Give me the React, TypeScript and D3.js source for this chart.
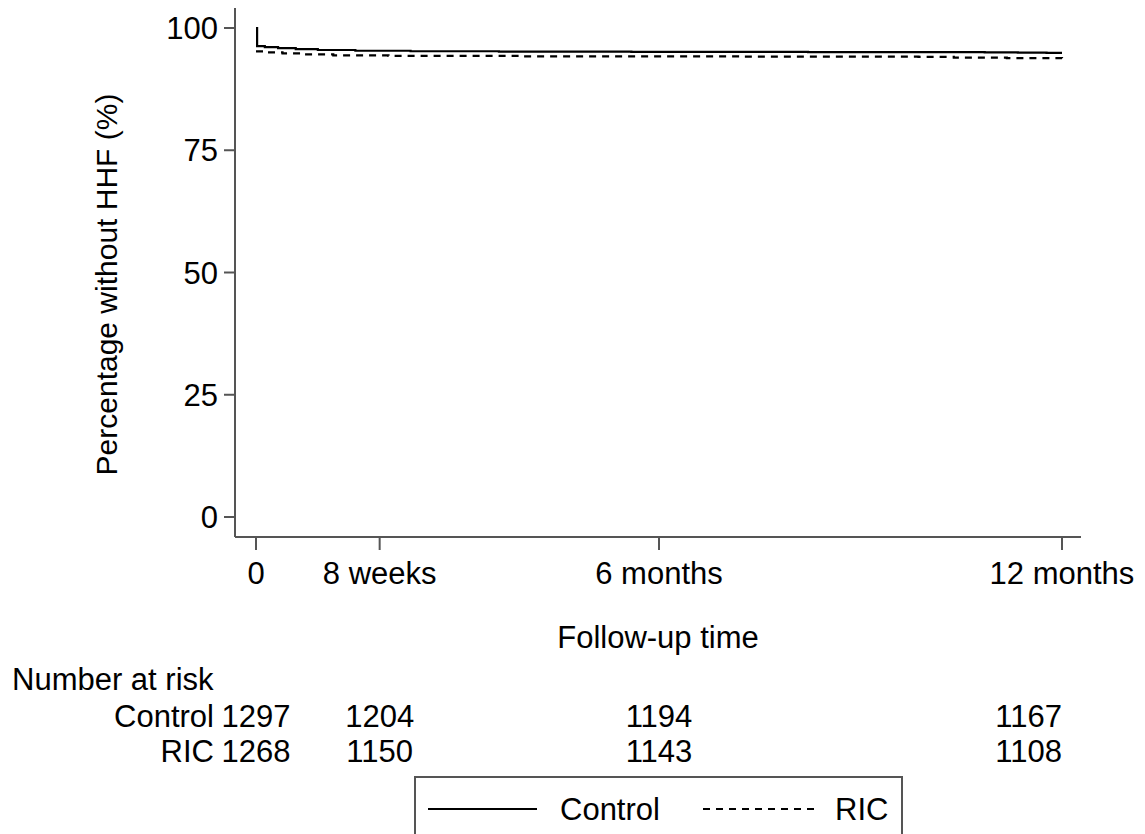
import React from "react";
import * as d3 from "d3";

const yTicks = [0, 25, 50, 75, 100];
const xTickDays = [0, 56, 182.5, 365];
const xTickLabels = ["0", "8 weeks", "6 months", "12 months"];

// Kaplan-Meier steps: [day, percent]
const controlCurve: [number, number][] = [
  [0, 100], [0.5, 96.3], [4, 96.1], [10, 95.9], [18, 95.7], [28, 95.5], [45, 95.35],
  [70, 95.25], [110, 95.15], [170, 95.1], [250, 95.05], [330, 95.0], [345, 94.95], [358, 94.9], [365, 94.9],
];
const ricCurve: [number, number][] = [
  [0, 95.2], [5, 95.0], [12, 94.8], [22, 94.6], [35, 94.4], [60, 94.3], [120, 94.2],
  [220, 94.15], [300, 94.1], [316, 93.95], [340, 93.85], [365, 93.8],
];

const atRiskTimes = [0, 56, 182.5, 365];
const atRiskControl = [1297, 1204, 1194, 1167];
const atRiskRIC = [1268, 1150, 1143, 1108];
const seriesNames = ["Control", "RIC"];

const W = 1145, H = 834;
const FONT = "'Liberation Sans', Arial, Helvetica, sans-serif";
const AXIS = "#555";
const FS = 31;

export default function App() {
  const x = d3.scaleLinear().domain([0, 365]).range([256, 1062]);
  const y = d3.scaleLinear().domain([0, 100]).range([517, 28]);
  const line = d3
    .line<[number, number]>()
    .x((d) => x(d[0]))
    .y((d) => y(d[1]))
    .curve(d3.curveStepAfter);

  const plotLeft = 235, plotBottom = 537, plotRight = 1081, plotTop = 8;
  const riskX = (i: number) => {
    if (i === atRiskTimes.length - 1) return { xx: x(atRiskTimes[i]), anchor: "end" as const };
    return { xx: x(atRiskTimes[i]), anchor: "middle" as const };
  };

  return (
    <svg width={W} height={H} style={{ position: "absolute", left: 0, top: 0, background: "#fff" }} fontFamily={FONT}>
      <rect width={W} height={H} fill="#fff" />
      {/* y axis */}
      <line x1={plotLeft} x2={plotLeft} y1={plotTop} y2={plotBottom} stroke={AXIS} strokeWidth={2} />
      {yTicks.map((t) => (
        <g key={t}>
          <line x1={plotLeft - 11} x2={plotLeft} y1={y(t)} y2={y(t)} stroke={AXIS} strokeWidth={2} />
          <text x={218} y={y(t)} dy="0.36em" textAnchor="end" fontSize={FS} fill="#000">{t}</text>
        </g>
      ))}
      <text
        transform={`translate(117,${(plotTop + plotBottom) / 2 + 12}) rotate(-90)`}
        textAnchor="middle" fontSize={30} fill="#000"
      >Percentage without HHF (%)</text>

      {/* x axis */}
      <line x1={plotLeft} x2={plotRight} y1={plotBottom} y2={plotBottom} stroke={AXIS} strokeWidth={2} />
      {xTickDays.map((t, i) => (
        <g key={t}>
          <line x1={x(t)} x2={x(t)} y1={plotBottom} y2={plotBottom + 13} stroke={AXIS} strokeWidth={2} />
          <text x={x(t)} y={584} textAnchor="middle" fontSize={FS} fill="#000">{xTickLabels[i]}</text>
        </g>
      ))}
      <text x={(plotLeft + plotRight) / 2} y={648} textAnchor="middle" fontSize={FS} fill="#000">Follow-up time</text>

      {/* curves */}
      <path d={line(ricCurve) || ""} fill="none" stroke="#000" strokeWidth={2.2} strokeDasharray="7 6" />
      <path d={line(controlCurve) || ""} fill="none" stroke="#000" strokeWidth={2.2} />

      {/* number at risk */}
      <text x={12} y={690} fontSize={FS} fill="#000">Number at risk</text>
      <text x={214} y={727} textAnchor="end" fontSize={FS} fill="#000">{seriesNames[0]}</text>
      <text x={214} y={762} textAnchor="end" fontSize={FS} fill="#000">{seriesNames[1]}</text>
      {atRiskControl.map((v, i) => {
        const p = riskX(i);
        return <text key={"c" + i} x={p.xx} y={727} textAnchor={p.anchor} fontSize={FS} fill="#000">{v}</text>;
      })}
      {atRiskRIC.map((v, i) => {
        const p = riskX(i);
        return <text key={"r" + i} x={p.xx} y={762} textAnchor={p.anchor} fontSize={FS} fill="#000">{v}</text>;
      })}

      {/* legend */}
      <rect x={415} y={777} width={487} height={80} fill="#fff" stroke={AXIS} strokeWidth={2} />
      <line x1={428} x2={537} y1={809} y2={809} stroke="#000" strokeWidth={2} />
      <text x={560} y={820} fontSize={FS} fill="#000">{seriesNames[0]}</text>
      <line x1={703} x2={815} y1={809} y2={809} stroke="#000" strokeWidth={2} strokeDasharray="7 6" />
      <text x={835} y={820} fontSize={FS} fill="#000">{seriesNames[1]}</text>
    </svg>
  );
}
